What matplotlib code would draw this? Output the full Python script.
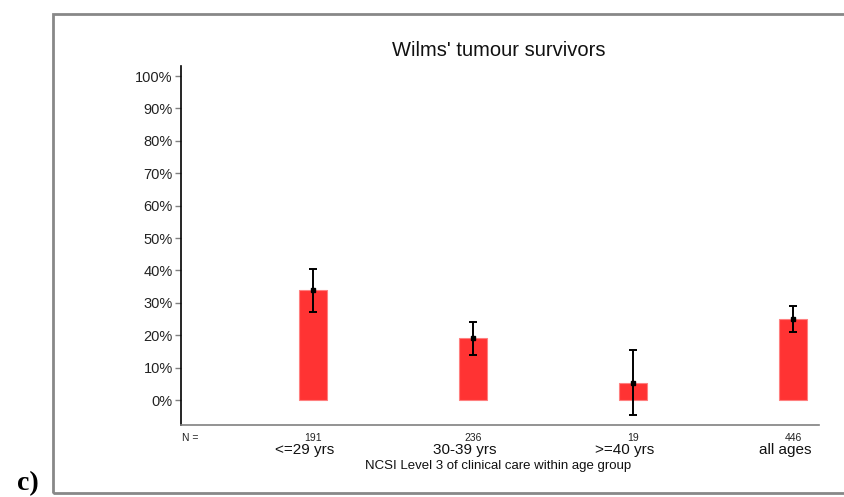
import matplotlib
matplotlib.use('Agg')
import matplotlib.pyplot as plt
from matplotlib.patches import Rectangle

plt.rcParams['font.family'] = ['Liberation Sans', 'DejaVu Sans']

# data (percent)
groups = ['<=29 yrs', '30-39 yrs', '>=40 yrs', 'all ages']
n_counts = ['191', '236', '19', '446']
pct = [34.0, 19.0, 5.3, 24.9]
ci_low = [27.3, 14.0, -4.6, 20.9]
ci_high = [40.6, 24.2, 15.4, 29.0]
yticks = [0, 10, 20, 30, 40, 50, 60, 70, 80, 90, 100]

W, H = 845, 497
fig = plt.figure(figsize=(W / 100, H / 100), dpi=100)
ax = fig.add_axes([181 / W, 1 - 425 / H, (819 - 181) / W, (425 - 66) / H])

xpos = list(range(len(groups)))
ax.bar(xpos, pct, width=0.18, color='#ff3333', edgecolor='#ff8080', linewidth=0.8, zorder=2)
yerr = [[p - lo for p, lo in zip(pct, ci_low)], [hi - p for p, hi in zip(pct, ci_high)]]
ax.errorbar(xpos, pct, yerr=yerr, fmt='s', color='black', markersize=2.5,
            ecolor='black', elinewidth=1.4, capsize=3, capthick=1.4, zorder=3)

ax.set_xlim(-0.825, 3.1625)
ax.set_ylim(-7.7, 103.1)
ax.set_yticks(yticks)
ax.set_yticklabels(['%d%%' % t for t in yticks], fontsize=10.5, color='#222222')
ax.tick_params(axis='y', length=4, width=1, color='#808080', pad=2)
ax.set_xticks([])

for side in ['top', 'right']:
    ax.spines[side].set_visible(False)
ax.spines['left'].set_color('black')
ax.spines['left'].set_linewidth(1.2)
ax.spines['bottom'].set_color('#808080')
ax.spines['bottom'].set_linewidth(1.2)

# N counts and group labels under the axis
xt = ax.get_xaxis_transform()
ax.text(-0.82, (425 - 438) / 359, 'N =', transform=xt, fontsize=7.5,
        ha='left', va='center', color='#222222')
for x, n, g in zip(xpos, n_counts, groups):
    ax.text(x, (425 - 438) / 359, n, transform=xt, fontsize=7.5,
            ha='center', va='center', color='#222222')
    ax.text(x - 0.05, (425 - 450) / 359, g, transform=xt, fontsize=11,
            ha='center', va='center', color='#111111')
fig.text(498 / W, 1 - 466 / H, 'NCSI Level 3 of clinical care within age group',
         fontsize=9.5, ha='center', va='center', color='#111111')

fig.text(499 / W, 1 - 50 / H, "Wilms' tumour survivors", fontsize=14.5,
         ha='center', va='center', color='#111111')

# outer frame and panel letter
frame = Rectangle((53 / W, 1 - 493 / H), 1.2, (493 - 14) / H, transform=fig.transFigure,
                  fill=False, edgecolor='#888888', linewidth=2, clip_on=False)
fig.add_artist(frame)
fig.text(17 / W, 1 - 484 / H, 'c)', fontsize=20, fontweight='bold',
         family='Liberation Serif', ha='left', va='center')

fig.savefig('out.png', dpi=100)
